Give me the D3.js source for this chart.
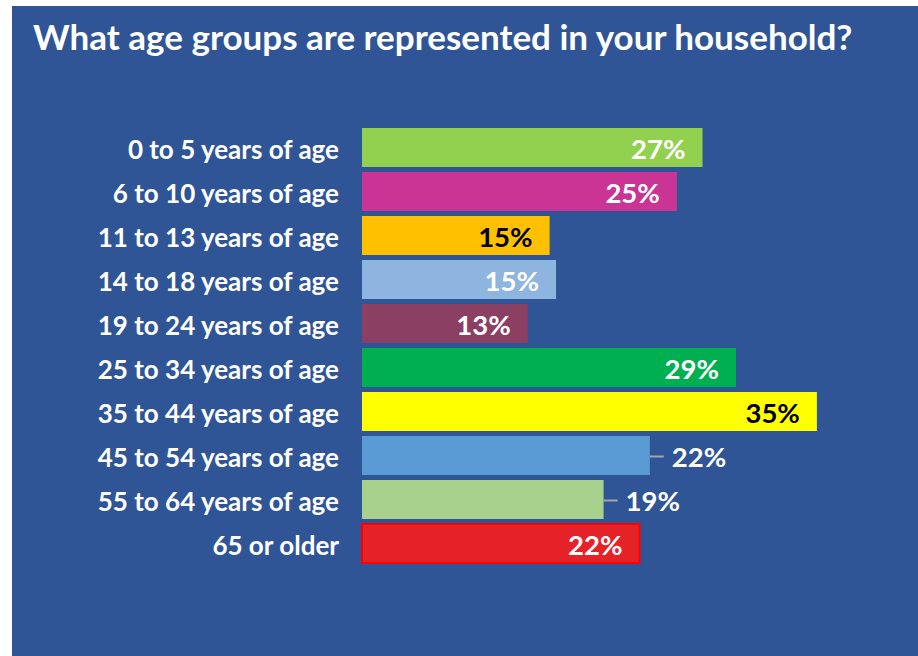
<!DOCTYPE html>
<html>
<head>
<meta charset="utf-8">
<script src="https://cdn.jsdelivr.net/npm/d3@7/dist/d3.min.js"></script>
<style>
  html, body { margin: 0; padding: 0; background: #ffffff; }
  svg { display: block; }
  text { font-family: Lato, "Open Sans", "DejaVu Sans", sans-serif; font-weight: bold; }
</style>
</head>
<body>
<svg id="chart" width="918" height="656"></svg>
<script>
const title = "What age groups are represented in your household?";
const categories = [
  "0 to 5 years of age", "6 to 10 years of age", "11 to 13 years of age",
  "14 to 18 years of age", "19 to 24 years of age", "25 to 34 years of age",
  "35 to 44 years of age", "45 to 54 years of age", "55 to 64 years of age",
  "65 or older"
];
const values = [26.5, 24.5, 14.6, 15.1, 12.9, 29.1, 35.4, 22.4, 18.8, 21.6];
const valueLabels = ["27%", "25%", "15%", "15%", "13%", "29%", "35%", "22%", "19%", "22%"];
const barColors = ["#92D050", "#CA3494", "#FFC000", "#8EB4E0", "#8B3F62",
                   "#00B050", "#FFFF00", "#5B9BD5", "#A9D18E", "#E42228"];
const labelColors = ["#ffffff", "#ffffff", "#000000", "#ffffff", "#ffffff",
                     "#ffffff", "#000000", "#ffffff", "#ffffff", "#ffffff"];
const labelPlacement = ["inside", "inside", "inside", "inside", "inside",
                        "inside", "inside", "outside", "outside", "inside"];

const svg = d3.select("#chart");

// panel background
svg.append("rect").attr("x", 12).attr("y", 6).attr("width", 906).attr("height", 650)
  .attr("fill", "#2F5597");

svg.append("text").attr("x", 33).attr("y", 50)
  .attr("fill", "#ffffff").attr("font-size", 35).text(title);

const y = d3.scaleBand().domain(categories)
  .range([128, 128 + 44 * 10 - 5]).paddingInner(5 / 44).paddingOuter(0);
const x = d3.scaleLinear().domain([0, 40]).range([362, 362 + 514]);

const data = categories.map((c, i) => ({
  c, v: values[i], label: valueLabels[i], color: barColors[i],
  lc: labelColors[i], place: labelPlacement[i]
}));

// category labels
svg.append("g").selectAll("text").data(data).join("text")
  .attr("x", 339).attr("y", d => y(d.c) + y.bandwidth() / 2 + 11)
  .attr("text-anchor", "end").attr("fill", "#ffffff").attr("font-size", 26)
  .text(d => d.c);

// bars
svg.append("g").selectAll("rect").data(data).join("rect")
  .attr("x", x(0)).attr("y", d => y(d.c))
  .attr("width", d => x(d.v) - x(0)).attr("height", y.bandwidth())
  .attr("fill", d => d.color)
  .attr("stroke", (d, i) => i === 9 ? "#FF0000" : "none")
  .attr("stroke-width", 2);

// leader lines for outside labels
svg.append("g").selectAll("line").data(data.filter(d => d.place === "outside")).join("line")
  .attr("x1", d => x(d.v)).attr("x2", d => x(d.v) + 14)
  .attr("y1", d => y(d.c) + y.bandwidth() / 2 + 1)
  .attr("y2", d => y(d.c) + y.bandwidth() / 2 + 1)
  .attr("stroke", "#A6A6A6").attr("stroke-width", 2);

// value labels
svg.append("g").selectAll("text").data(data).join("text")
  .attr("x", d => d.place === "inside" ? x(d.v) - 17 : x(d.v) + 22)
  .attr("y", d => y(d.c) + y.bandwidth() / 2 + 11)
  .attr("text-anchor", d => d.place === "inside" ? "end" : "start")
  .attr("fill", d => d.lc).attr("font-size", 27.5)
  .text(d => d.label);
</script>
</body>
</html>
